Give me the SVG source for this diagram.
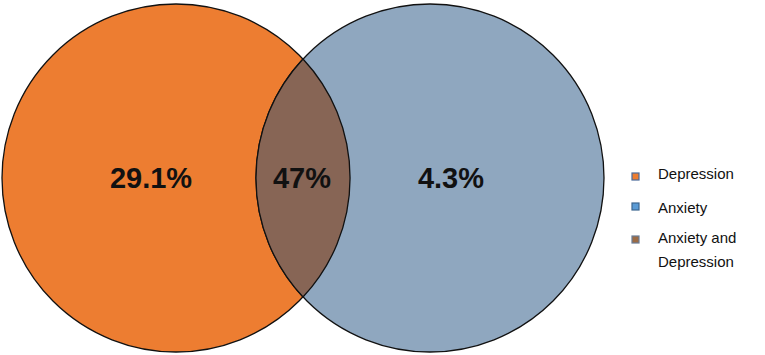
<svg xmlns="http://www.w3.org/2000/svg" width="765" height="355" viewBox="0 0 765 355">
<style>
.c{stroke:#111;stroke-width:1.3}
.v{font-family:"Liberation Sans",Arial,sans-serif;font-weight:bold;font-size:29px;fill:#111;text-anchor:middle}
.l{font-family:"Liberation Sans",Arial,sans-serif;font-size:15px;fill:#111}
</style>
<defs>
<clipPath id="cl"><circle cx="176" cy="178" r="174"/></clipPath>
</defs>
<rect width="765" height="355" fill="#fff"/>
<g id="depression">
<circle class="c" cx="176" cy="178" r="174" fill="#ED7D31"/>
</g>
<g id="anxiety">
<circle class="c" cx="430" cy="178" r="174" fill="#8FA7BF"/>
</g>
<g id="overlap">
<circle cx="430" cy="178" r="174" fill="#876555" clip-path="url(#cl)"/>
<path d="M303,59 A174,174 0 0 0 303,297" fill="none" stroke="#111" stroke-width="1.3"/>
<path d="M303,59 A174,174 0 0 1 303,297" fill="none" stroke="#111" stroke-width="1.3"/>
</g>
<g id="labels">
<text class="v" x="151" y="188">29.1%</text>
<text class="v" x="302" y="188">47%</text>
<text class="v" x="451" y="188">4.3%</text>
</g>
<g id="legend">
<rect x="632" y="173" width="7" height="7" fill="#ED7D31" stroke="#4A6A9A" stroke-width="1.2"/>
<text class="l" x="658" y="179">Depression</text>
<rect x="632" y="203" width="7" height="7" fill="#5B9BD5" stroke="#3D6690" stroke-width="1.2"/>
<text class="l" x="658" y="213">Anxiety</text>
<rect x="632" y="236" width="7" height="7" fill="#9C6B45" stroke="#6A7C95" stroke-width="1.2"/>
<text class="l" x="658" y="243">Anxiety and</text>
<text class="l" x="658" y="267">Depression</text>
</g>
</svg>
